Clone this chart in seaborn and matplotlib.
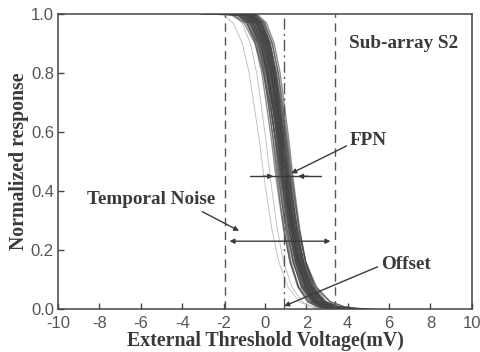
import numpy as np
import pandas as pd
import matplotlib.pyplot as plt
import seaborn as sns

# median S-curve (mV, normalized response)
base_volt = [-1.9, -1.2, -0.8, -0.4, 0.0, 0.3, 0.5, 0.75, 0.93, 1.1, 1.3, 1.6, 2.0, 2.5, 3.0, 3.5, 4.0]
base_resp = [1.0, 1.0, 0.995, 0.97, 0.9, 0.8, 0.7, 0.57, 0.46, 0.37, 0.27, 0.16, 0.075, 0.025, 0.008, 0.002, 0.0]
curve_center = 0.93

# per-pixel threshold shift (mV) and width factor of each curve
pixel_shift = [-0.42, -0.36, -0.31, -0.27, -0.23, -0.2, -0.17, -0.14, -0.12, -0.1,
               -0.08, -0.06, -0.04, -0.03, -0.01, 0.0, 0.01, 0.03, 0.04, 0.05,
               0.07, 0.08, 0.1, 0.11, 0.13, 0.15, 0.17, 0.19, 0.22, 0.25,
               0.28, 0.31, 0.35, 0.4, -0.15, 0.02, 0.12, -0.05, 0.2, 0.06]
pixel_width = [1.05, 0.95, 1.1, 0.9, 1.0, 1.15, 0.92, 1.0, 1.08, 0.95,
               1.2, 0.9, 1.0, 1.1, 0.95, 1.0, 1.25, 0.9, 1.05, 1.0,
               0.95, 1.15, 1.0, 0.9, 1.1, 1.0, 1.3, 0.95, 1.05, 1.0,
               0.92, 1.1, 1.0, 0.95, 1.35, 1.4, 0.85, 1.2, 1.1, 0.88]

# faint outlier curves on the left
outlier_shift = [-1.0, -0.7]
outlier_width = [1.1, 1.0]

# markers
noise_left, noise_right = -1.95, 3.4
offset_v = 0.93
fpn_lo, fpn_hi = 0.4, 1.6


def build_curves(shifts, widths):
    rows = []
    for i, (s, w) in enumerate(zip(shifts, widths)):
        for v, r in zip(base_volt, base_resp):
            rows.append({'pixel': i, 'voltage': curve_center + (v - curve_center) * w + s,
                         'response': r})
    return pd.DataFrame(rows)


sns.set_style('ticks')
plt.rcParams['font.family'] = ['Liberation Sans', 'DejaVu Sans']
plt.rcParams['axes.unicode_minus'] = False
ink = '#3a3a3a'

fig = plt.figure(figsize=(4.8, 3.52), dpi=100)
ax = fig.add_axes([0.121, 0.122, 0.862, 0.838])

main = build_curves(pixel_shift, pixel_width)
faint = build_curves(outlier_shift, outlier_width)
sns.lineplot(data=faint, x='voltage', y='response', units='pixel', estimator=None,
             color='#bbbbbb', lw=0.6, ax=ax)
sns.lineplot(data=main, x='voltage', y='response', units='pixel', estimator=None,
             color='#444444', alpha=0.6, lw=1.0, ax=ax)

for xv in (noise_left, noise_right):
    ax.axvline(xv, color='#555555', lw=1.0, ls=(0, (6, 4)))
ax.axvline(offset_v, color='#555555', lw=1.0, ls=(0, (8, 3, 1.5, 3)))

serif = {'family': 'Liberation Serif', 'color': ink, 'fontsize': 13.8, 'fontweight': 'bold'}
arrow = dict(arrowstyle='-|>', color=ink, lw=1.0, mutation_scale=7, shrinkA=0, shrinkB=0)

# temporal noise span
ax.annotate('', xy=(noise_left + 0.1, 0.23), xytext=(noise_right - 0.1, 0.23),
            arrowprops=dict(arrowstyle='<|-|>', color=ink, lw=1.0, mutation_scale=7))
ax.annotate('Temporal Noise', xy=(-1.25, 0.265), xytext=(-8.6, 0.37), va='center',
            arrowprops=dict(arrow, relpos=(0.85, 0.0)), **serif)

# FPN span
ax.plot([-0.7, 2.7], [0.45, 0.45], color=ink, lw=1.0)
ax.annotate('', xy=(fpn_lo, 0.45), xytext=(fpn_lo - 0.5, 0.45), arrowprops=arrow)
ax.annotate('', xy=(fpn_hi, 0.45), xytext=(fpn_hi + 0.5, 0.45), arrowprops=arrow)
ax.annotate('FPN', xy=(1.27, 0.46), xytext=(4.1, 0.57), va='center',
            arrowprops=dict(arrow, relpos=(0.0, 0.3)), **serif)

# offset
ax.annotate('Offset', xy=(offset_v, 0.01), xytext=(5.6, 0.15), va='center',
            arrowprops=dict(arrow, relpos=(-0.05, 0.4)), **serif)

ax.text(4.05, 0.9, 'Sub-array S2', va='center', **serif)

ax.set_xlim(-10, 10)
ax.set_ylim(0, 1.0)
ax.set_xticks(np.arange(-10, 11, 2))
ax.set_yticks(np.arange(0, 1.01, 0.2))
ax.set_yticklabels([f'{v:.1f}' for v in np.arange(0, 1.01, 0.2)])
ax.tick_params(direction='in', length=4, width=1.0, colors='#444444', labelsize=12,
               labelcolor='#555555', pad=3)
ax.tick_params(axis='x', pad=5)
for sp in ax.spines.values():
    sp.set_visible(True)
    sp.set_color('#444444')
    sp.set_linewidth(1.1)

label_font = dict(serif, fontsize=14.3)
ax.set_xlabel('External Threshold Voltage(mV)', labelpad=0, **label_font)
ax.set_ylabel('Normalized response', labelpad=1, **label_font)

fig.savefig('out.png', dpi=100)
